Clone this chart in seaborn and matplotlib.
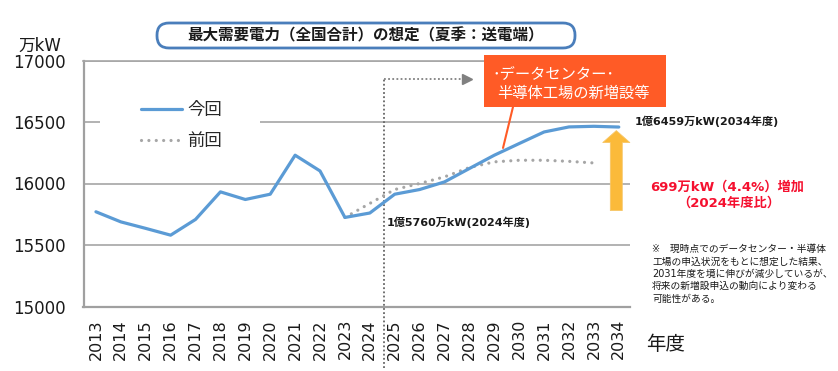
import matplotlib
matplotlib.use("Agg")
import matplotlib.pyplot as plt
from matplotlib.patches import FancyBboxPatch, Rectangle
import seaborn as sns
import pandas as pd

# ---------------- data ----------------
years = list(range(2013, 2035))
current = [15770, 15688, 15635, 15580, 15708, 15932, 15870, 15913, 16230, 16102,
           15724, 15760, 15913, 15951, 16013, 16122, 16230, 16325, 16419, 16460,
           16465, 16459]
prev_years = list(range(2023, 2034))
previous = [15724, 15838, 15951, 16000, 16054, 16130, 16176, 16189, 16189, 16180,
            16167]
series_labels = ["今回", "前回"]
yticks = [15000, 15500, 16000, 16500, 17000]
base_value = 15760      # 2024
target_value = 16459    # 2034
split_year = 2024.55

title = "最大需要電力（全国合計）の想定（夏季：送電端）"
note = ("※　現時点でのデータセンター・半導体\n工場の申込状況をもとに想定した結果、\n"
        "2031年度を境に伸びが減少しているが、\n将来の新増設申込の動向により変わる\n可能性がある。")

df_cur = pd.DataFrame({"year": years, "value": current})
df_prev = pd.DataFrame({"year": prev_years, "value": previous})

sns.set_theme(style="white")
plt.rcParams["font.family"] = ["DejaVu Sans", "Noto Sans CJK JP"]

W, H = 838, 371
fig = plt.figure(figsize=(8.38, 3.71), dpi=100)
ax = fig.add_axes([83.5 / W, 1 - 306.5 / H, (630 - 83.5) / W, 246 / H])

blue = "#5B9BD5"
grey = "#A6A6A6"

sns.lineplot(data=df_prev, x="year", y="value", ax=ax, color=grey, linewidth=2.3,
             linestyle=(0, (0.01, 2.3)), dash_capstyle="round", label=series_labels[1],
             zorder=3)
sns.lineplot(data=df_cur, x="year", y="value", ax=ax, color=blue, linewidth=2.3,
             label=series_labels[0], zorder=4)

ax.set_xlim(2012.5, 2034.45)
ax.set_ylim(15000, 17000)
ax.set_xticks(years)
ax.set_xticklabels([str(y) for y in years], rotation=90, fontsize=11.5, color="#1a1a1a")
ax.set_yticks(yticks)
ax.set_yticklabels([str(v) for v in yticks], fontsize=12, color="#1a1a1a")
ax.tick_params(axis="both", length=0)
ax.tick_params(axis="x", pad=9)
ax.tick_params(axis="y", pad=13)
ax.set_xlabel("")
ax.set_ylabel("")
ax.set_axisbelow(True)
ax.grid(axis="y", color="#A6A6A6", linewidth=1.2)
ax.grid(axis="x", visible=False)
ax.spines["right"].set_visible(False)
ax.spines["top"].set_color("#A6A6A6")
ax.spines["top"].set_linewidth(1.2)
for s in ["left", "bottom"]:
    ax.spines[s].set_color("#A0A0A0")
    ax.spines[s].set_linewidth(1.6)

# legend with white area masking gridline
ax.add_patch(Rectangle((100 / W, 1 - 155 / H), 160 / W, 60 / H, transform=fig.transFigure,
                       fc="white", ec="none", zorder=1))
handles, labels = ax.get_legend_handles_labels()
order = [labels.index(series_labels[0]), labels.index(series_labels[1])]
leg = ax.legend([handles[i] for i in order], [labels[i] for i in order],
                loc="upper left", bbox_to_anchor=(141 / W, 1 - 101 / H),
                bbox_transform=fig.transFigure, frameon=False, fontsize=12.5,
                handlelength=2.35, handletextpad=0.3, labelspacing=0.75,
                borderpad=0, borderaxespad=0)

# vertical split line and dotted arrow
top_y = 16850
ax.plot([split_year, split_year], [14500, top_y], color="#666666", linewidth=1.3,
        linestyle=(0, (1, 1.3)), clip_on=False, zorder=2)
ax.plot([split_year, 2027.72], [top_y, top_y], color="#808080", linewidth=1.3,
        linestyle=(0, (1, 1.3)), zorder=2)
ax.plot([2027.9], [top_y], marker=">", markersize=7, color="#808080", zorder=2)

# yellow increase arrow
ax.annotate("", xy=(2033.9, 16430), xytext=(2033.9, 15780), xycoords="data",
            arrowprops=dict(arrowstyle="simple,head_length=0.86,head_width=1.95,tail_width=0.86",
                            fc="#FBBA3A", ec="#F7C668", lw=0.6, shrinkA=0, shrinkB=0,
                            mutation_scale=10), zorder=5)

# orange callout leader line
ax.plot([2029.75, 2029.35], [16622, 16289], color="#FF5B26", linewidth=1.5,
        clip_on=False, zorder=6)

# ---------------- overlay in pixel coordinates ----------------
ov = fig.add_axes([0, 0, 1, 1], zorder=10)
ov.set_xlim(0, W)
ov.set_ylim(H, 0)
ov.axis("off")

cjk = ["Noto Sans CJK JP", "DejaVu Sans"]
ov.add_patch(FancyBboxPatch((157, 23), 418, 25, boxstyle="round,pad=0,rounding_size=12",
                            fc="white", ec="#4A7EBB", lw=2))
ov.text(366, 35.5, title, ha="center", va="center", fontsize=11.2, fontweight="bold",
        color="#1a1a1a", family=cjk)

ov.add_patch(Rectangle((484, 55), 182, 52, fc="#FF5B26", ec="none"))
ov.text(492, 74, "･データセンター･", ha="left", va="center", fontsize=11, color="white",
        family=cjk)
ov.text(497, 93, "半導体工場の新増設等", ha="left", va="center", fontsize=11, color="white",
        family=cjk)

ov.text(40, 46, "万kW", ha="center", va="center", fontsize=12, color="#1a1a1a")

ov.add_patch(Rectangle((620, 115), 15, 11, fc="white", ec="none"))
ov.text(635, 121, f"1億{target_value - 10000}万kW(2034年度)", ha="left", va="center",
        fontsize=8, fontweight="bold", color="#1a1a1a")
ov.text(387, 222, f"1億{base_value - 10000}万kW(2024年度)", ha="left", va="center",
        fontsize=8, fontweight="bold", color="#1a1a1a")

inc = target_value - base_value
pct = inc / base_value * 100
ov.text(727, 187, f"{inc}万kW（{pct:.1f}%）増加", ha="center", va="center",
        fontsize=9.5, fontweight="bold", color="#F5102F")
ov.text(729, 203, "（2024年度比）", ha="center", va="center",
        fontsize=9.5, fontweight="bold", color="#F5102F")

ov.text(652, 244, note, ha="left", va="top", fontsize=7, color="#1a1a1a",
        linespacing=1.3)

ov.text(666, 344, "年度", ha="center", va="center", fontsize=14, color="#1a1a1a")

fig.savefig("out.png", dpi=100)
